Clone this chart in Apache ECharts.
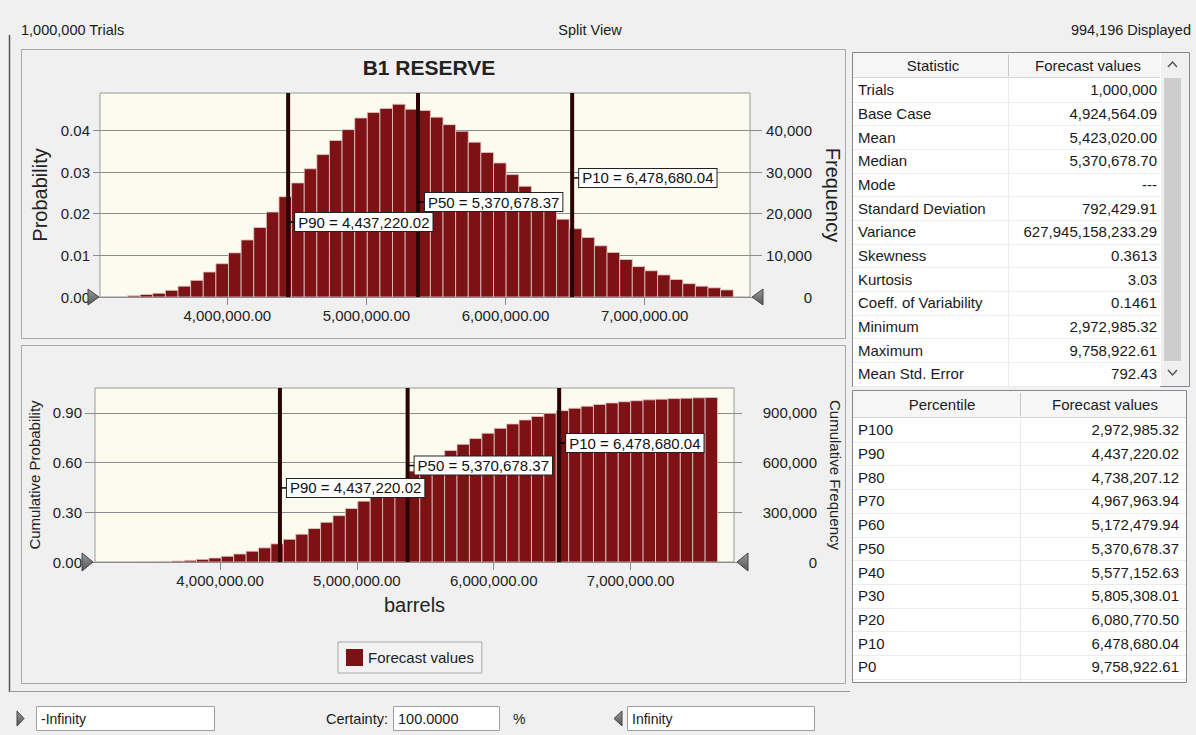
<!DOCTYPE html>
<html><head><meta charset="utf-8">
<script src="https://cdn.jsdelivr.net/npm/echarts@6/dist/echarts.min.js"></script>
<style>html,body{margin:0;padding:0;background:#f0f0f0}#c{width:1196px;height:735px}</style>
</head><body><div id="c"></div>
<script>
// ---------------- data ----------------
const trials = 1000000;
const binStart = 3283000;     // left edge of first histogram bin (barrels)
const binWidth = 90700;       // bin width (barrels)
const probability = [
  0.0003, 0.0006, 0.0009, 0.0016, 0.0026, 0.0040, 0.0060, 0.0080, 0.0106, 0.0137,
  0.0167, 0.0204, 0.0241, 0.0274, 0.0308, 0.0342, 0.0376, 0.0402, 0.0430, 0.0443,
  0.0453, 0.0463, 0.0451, 0.0448, 0.0432, 0.0414, 0.0398, 0.0372, 0.0347, 0.0322,
  0.0294, 0.0266, 0.0240, 0.0213, 0.0187, 0.0164, 0.0143, 0.0123, 0.0107, 0.0090,
  0.0073, 0.0063, 0.0053, 0.0042, 0.0032, 0.0026, 0.0022, 0.0017
];
const pNames = ['P90', 'P50', 'P10'];
const pValues = [4437220.02, 5370678.37, 6478680.04];
const pLabelYTop = [0.0180, 0.0228, 0.0286];
const pLabelYBottom = [0.447, 0.582, 0.718];
const xTicks = [4000000, 5000000, 6000000, 7000000];
const probTicks = [0, 0.01, 0.02, 0.03, 0.04];
const cumTicks = [0, 0.3, 0.6, 0.9];
const statNames = ['Trials','Base Case','Mean','Median','Mode','Standard Deviation','Variance','Skewness','Kurtosis','Coeff. of Variability','Minimum','Maximum','Mean Std. Error'];
const statValues = ['1,000,000','4,924,564.09','5,423,020.00','5,370,678.70','---','792,429.91','627,945,158,233.29','0.3613','3.03','0.1461','2,972,985.32','9,758,922.61','792.43'];
const pctNames = ['P100','P90','P80','P70','P60','P50','P40','P30','P20','P10','P0'];
const pctValues = ['2,972,985.32','4,437,220.02','4,738,207.12','4,967,963.94','5,172,479.94','5,370,678.37','5,577,152.63','5,805,308.01','6,080,770.50','6,478,680.04','9,758,922.61'];
const headerLeft = '1,000,000 Trials';
const headerMid = 'Split View';
const headerRight = '994,196 Displayed';
const chartTitle = 'B1 RESERVE';
const seriesName = 'Forecast values';
const xName = 'barrels';
const lowerBound = '-Infinity', upperBound = 'Infinity', certainty = '100.0000';

// ---------------- derived ----------------
const FONT = "'Liberation Sans', Arial, sans-serif";
const fmt2 = v => v.toLocaleString('en-US', {minimumFractionDigits: 2, maximumFractionDigits: 2});
const fmt0 = v => Math.round(v).toLocaleString('en-US');
const histData = probability.map((p, i) => [binStart + i * binWidth, binStart + (i + 1) * binWidth, p]);
let run = 0;
const cumData = probability.map((p, i) => { run += p; return [binStart + i * binWidth, binStart + (i + 1) * binWidth, run]; });
const pTop = pValues.map((v, i) => [v, pLabelYTop[i]]);
const pBot = pValues.map((v, i) => [v, pLabelYBottom[i]]);

const BAR = '#7c1214';
function barItem(params, api) {
  const p0 = api.coord([api.value(0), 0]);
  const p1 = api.coord([api.value(1), api.value(2)]);
  return {type: 'rect', shape: {x: p0[0], y: p1[1], width: p1[0] - p0[0], height: p0[1] - p1[1]},
    style: {fill: BAR, stroke: 'rgba(225,200,200,0.8)', lineWidth: 1}};
}
function pLineItem(params, api) {
  const cs = params.coordSys;
  const x = api.coord([api.value(0), 0])[0];
  return {type: 'line', shape: {x1: x, y1: cs.y, x2: x, y2: cs.y + cs.height},
    style: {stroke: '#2a0404', lineWidth: 4}};
}
function pLabelItem(params, api) {
  const pt = api.coord([api.value(0), api.value(1)]);
  const i = params.dataIndex;
  return {type: 'group', children: [
    {type: 'line', shape: {x1: pt[0], y1: pt[1], x2: pt[0] + 8, y2: pt[1]}, style: {stroke: '#000', lineWidth: 1.5}},
    {type: 'text', x: pt[0] + 7, y: pt[1], z2: 10,
      style: {text: pNames[i] + ' = ' + fmt2(pValues[i]), font: '15px ' + FONT, fill: '#111',
        align: 'left', verticalAlign: 'middle', backgroundColor: '#fff', borderColor: '#222', borderWidth: 1, padding: [2, 3, 1, 3]}}
  ]};
}

const axisLabelStyle = {fontSize: 15, color: '#222', fontFamily: FONT};
const gridLine = {lineStyle: {color: '#8c8c8c', width: 1}};
const tickStyle = {lineStyle: {color: '#8c8c8c'}};

// ---------------- graphic (frame, tables, controls) ----------------
const g = [];
function rect(x, y, w, h, fill, stroke, z) { g.push({type: 'rect', z: z || 50, shape: {x, y, width: w, height: h}, style: {fill: fill, stroke: stroke || null, lineWidth: 1}}); }
function line(x1, y1, x2, y2, stroke, w, z) { g.push({type: 'line', z: z || 51, shape: {x1, y1, x2, y2}, style: {stroke, lineWidth: w || 1}}); }
function text(x, y, t, align, size, extra) { g.push({type: 'text', z: 60, x, y, style: Object.assign({text: t, font: (size || 15) + 'px ' + FONT, fill: '#1a1a1a', align: align || 'left', verticalAlign: 'middle'}, extra || {})}); }
function tri(pts, z) { g.push({type: 'polygon', z: z || 70, shape: {points: pts}, style: {fill: new echarts.graphic.LinearGradient(0, 0, 0, 1, [{offset: 0, color: '#9a9a9a'}, {offset: 1, color: '#555'}]), stroke: '#444', lineWidth: 1}}); }

// outer frame and panels
rect(21.5, 49.5, 824, 289, 'rgba(0,0,0,0)', '#a8a8a8', 1);
rect(21.5, 345.5, 824, 338, 'rgba(0,0,0,0)', '#a8a8a8', 1);
line(9.5, 35, 9.5, 692, '#555', 1.5, 2);
line(9.5, 691.5, 850, 691.5, '#9a9a9a', 1, 2);
// header texts
text(21, 30, headerLeft, 'left', 14.5);
text(590, 30, headerMid, 'center', 14.5);
text(1191, 30, headerRight, 'right', 14.5);

// statistic table
const sRow = 23.67, sTop = 78;
rect(852.5, 52.5, 337, 334, '#fff', '#828790');
rect(853, 53, 307, 24, '#f6f6f6', null);
line(853, 77.5, 1160, 77.5, '#d5d5d5');
line(1008.5, 55, 1008.5, 76, '#c8c8c8');
text(933, 65, 'Statistic', 'center');
text(1088, 65, 'Forecast values', 'center');
rect(1161, 53, 28, 333, '#f0f0f0', null);
rect(1164, 78, 17, 283, '#cdcdcd', null);
g.push({type: 'polyline', z: 60, shape: {points: [[1168, 67], [1172.5, 62], [1177, 67]]}, style: {stroke: '#555', lineWidth: 1.5, fill: null}});
g.push({type: 'polyline', z: 60, shape: {points: [[1168, 370], [1172.5, 375], [1177, 370]]}, style: {stroke: '#555', lineWidth: 1.5, fill: null}});
line(1008.5, 78, 1008.5, 386, '#ececec');
statNames.forEach((n, i) => {
  const cy = sTop + sRow * i + sRow / 2;
  text(858, cy, n, 'left');
  text(1157, cy, statValues[i], 'right');
  line(853, Math.round(sTop + sRow * (i + 1)) + 0.5, 1160, Math.round(sTop + sRow * (i + 1)) + 0.5, '#ececec');
});

// percentile table
const pRow = 23.7, pTopY = 418;
rect(852.5, 390.5, 334, 292, '#fff', '#828790');
rect(853, 391, 333, 26, '#f6f6f6', null);
line(853, 417.5, 1186, 417.5, '#d5d5d5');
line(1020.5, 393, 1020.5, 416, '#c8c8c8');
line(1020.5, 418, 1020.5, 682, '#ececec');
text(942, 404, 'Percentile', 'center');
text(1105, 404, 'Forecast values', 'center');
pctNames.forEach((n, i) => {
  const cy = pTopY + pRow * i + pRow / 2;
  text(858, cy, n, 'left');
  text(1179, cy, pctValues[i], 'right');
  line(853, Math.round(pTopY + pRow * (i + 1)) + 0.5, 1186, Math.round(pTopY + pRow * (i + 1)) + 0.5, '#ececec');
});

// certainty grabbers
tri([[88, 289], [99, 297], [88, 305]]);
tri([[763, 289], [752, 297], [763, 305]]);
tri([[82, 553], [93, 562], [82, 571]]);
tri([[748, 553], [737, 562], [748, 571]]);

// bottom controls
tri([[17, 711], [24, 718.5], [17, 726]]);
rect(36.5, 706.5, 178, 24, '#fff', '#a0a0a0');
text(41, 718.5, lowerBound, 'left', 14);
text(388, 718.5, 'Certainty:', 'right', 14.5);
rect(393.5, 706.5, 106, 24, '#fff', '#a0a0a0');
text(398, 718.5, certainty, 'left', 14.5);
text(513, 718.5, '%', 'left', 14);
tri([[622, 711], [614, 718.5], [622, 726]]);
rect(627.5, 706.5, 187, 24, '#fff', '#a0a0a0');
text(632, 718.5, upperBound, 'left', 14);

// ---------------- chart ----------------
const chart = echarts.init(document.getElementById('c'), null, {renderer: 'svg'});
const xMin = 3085000, xMax = 7757000;
function xAxis(gi) {
  return {gridIndex: gi, type: 'value', min: xMin, max: xMax,
    axisLine: {show: false}, splitLine: {show: false},
    axisTick: {show: true, length: 8, customValues: xTicks, lineStyle: {color: '#8c8c8c'}},
    axisLabel: Object.assign({customValues: xTicks, margin: 11, formatter: v => fmt2(v)}, axisLabelStyle),
    name: gi === 1 ? xName : '', nameLocation: 'middle', nameGap: 33,
    nameTextStyle: {fontSize: 20, color: '#222', fontFamily: FONT}};
}
chart.setOption({
  backgroundColor: '#f0f0f0',
  animation: false,
  title: {text: chartTitle, left: 424, top: 52, textAlign: 'center',
    textStyle: {fontSize: 21, fontWeight: 'bold', color: '#222', fontFamily: FONT}},
  legend: {data: [{name: seriesName, icon: 'rect'}], left: 338, top: 642, itemWidth: 17, itemHeight: 17,
    padding: [7, 8, 7, 8], borderColor: '#a8a8a8', borderWidth: 1, backgroundColor: '#f2f2f2',
    textStyle: {fontSize: 15, color: '#222', fontFamily: FONT}},
  grid: [
    {left: 100, top: 93, width: 650, height: 204, show: true, backgroundColor: '#fcfcee', borderColor: '#9a9a9a', borderWidth: 1},
    {left: 95, top: 388, width: 639, height: 174, show: true, backgroundColor: '#fcfcee', borderColor: '#9a9a9a', borderWidth: 1}
  ],
  xAxis: [xAxis(0), xAxis(1)],
  yAxis: [
    {gridIndex: 0, type: 'value', position: 'left', min: 0, max: 0.049, interval: 0.01,
      axisLine: {show: false}, splitLine: gridLine,
      axisTick: Object.assign({show: true, length: 7, customValues: probTicks}, tickStyle),
      axisLabel: Object.assign({customValues: probTicks, margin: 10, formatter: v => v.toFixed(2)}, axisLabelStyle),
      name: 'Probability', nameLocation: 'middle', nameGap: 49,
      nameTextStyle: {fontSize: 20, color: '#222', fontFamily: FONT}},
    {gridIndex: 0, type: 'value', position: 'right', min: 0, max: 0.049 * trials, interval: 10000,
      axisLine: {show: false}, splitLine: {show: false},
      axisTick: Object.assign({show: true, length: 12, customValues: probTicks.map(v => v * trials)}, tickStyle),
      axisLabel: Object.assign({customValues: probTicks.map(v => v * trials), margin: 62, align: 'right', formatter: v => fmt0(v)}, axisLabelStyle),
      name: 'Frequency', nameLocation: 'middle', nameGap: 63, nameRotate: -90,
      nameTextStyle: {fontSize: 20, color: '#222', fontFamily: FONT}},
    {gridIndex: 1, type: 'value', position: 'left', min: 0, max: 1.05, interval: 0.3,
      axisLine: {show: false}, splitLine: gridLine,
      axisTick: Object.assign({show: true, length: 10, customValues: cumTicks}, tickStyle),
      axisLabel: Object.assign({customValues: cumTicks, margin: 13, formatter: v => v.toFixed(2)}, axisLabelStyle),
      name: 'Cumulative Probability', nameLocation: 'middle', nameGap: 50,
      nameTextStyle: {fontSize: 15, color: '#222', fontFamily: FONT}},
    {gridIndex: 1, type: 'value', position: 'right', min: 0, max: 1.05 * trials, interval: 300000,
      axisLine: {show: false}, splitLine: {show: false},
      axisTick: Object.assign({show: true, length: 8, customValues: cumTicks.map(v => v * trials)}, tickStyle),
      axisLabel: Object.assign({customValues: cumTicks.map(v => v * trials), margin: 83, align: 'right', formatter: v => fmt0(v)}, axisLabelStyle),
      name: 'Cumulative Frequency', nameLocation: 'middle', nameGap: 77, nameRotate: -90,
      nameTextStyle: {fontSize: 15, color: '#222', fontFamily: FONT}}
  ],
  series: [
    {name: seriesName, type: 'custom', xAxisIndex: 0, yAxisIndex: 0, renderItem: barItem, data: histData,
      encode: {x: [0, 1], y: 2}, itemStyle: {color: BAR}, clip: true},
    {name: seriesName, type: 'custom', xAxisIndex: 1, yAxisIndex: 2, renderItem: barItem, data: cumData,
      encode: {x: [0, 1], y: 2}, itemStyle: {color: BAR}, clip: true},
    {type: 'custom', xAxisIndex: 0, yAxisIndex: 0, renderItem: pLineItem, data: pTop, encode: {x: 0, y: 1}, z: 3, silent: true},
    {type: 'custom', xAxisIndex: 1, yAxisIndex: 2, renderItem: pLineItem, data: pBot, encode: {x: 0, y: 1}, z: 3, silent: true},
    {type: 'custom', xAxisIndex: 0, yAxisIndex: 0, renderItem: pLabelItem, data: pTop, encode: {x: 0, y: 1}, z: 4, silent: true},
    {type: 'custom', xAxisIndex: 1, yAxisIndex: 2, renderItem: pLabelItem, data: pBot, encode: {x: 0, y: 1}, z: 4, silent: true}
  ],
  graphic: {elements: g}
});
</script>
</body></html>
